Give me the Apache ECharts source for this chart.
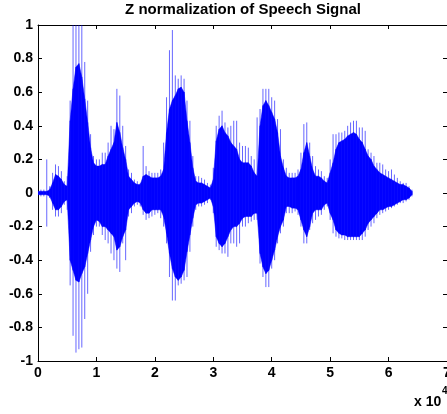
<!DOCTYPE html>
<html>
<head>
<meta charset="utf-8">
<script src="https://cdn.jsdelivr.net/npm/echarts@6/dist/echarts.min.js"></script>
<style>
html, body {margin:0; padding:0; background:#fff;}
#main {width:447px; height:414px;}
</style>
</head>
<body>
<div id="main"></div>
<script>
// envelope of the signal, one reading every 500 samples
var sampleStep = 500;
// dense core of the waveform (upper / lower)
var coreTop = [0.01,0.01,0.01,0.01,0.02,0.06,0.11,0.10,0.08,0.05,
    0.04,0.43,0.62,0.75,0.77,0.69,0.56,0.42,0.27,0.18,
    0.16,0.16,0.17,0.17,0.22,0.26,0.30,0.42,0.36,0.27,
    0.20,0.10,0.08,0.06,0.05,0.05,0.10,0.11,0.10,0.09,
    0.09,0.09,0.10,0.14,0.36,0.50,0.55,0.58,0.62,0.63,
    0.60,0.43,0.30,0.15,0.07,0.06,0.06,0.05,0.04,0.03,
    0.08,0.31,0.38,0.40,0.36,0.34,0.30,0.28,0.26,0.20,
    0.18,0.18,0.18,0.16,0.12,0.10,0.40,0.52,0.55,0.52,
    0.48,0.44,0.36,0.22,0.15,0.10,0.09,0.09,0.09,0.10,
    0.14,0.24,0.30,0.22,0.14,0.10,0.10,0.09,0.07,0.06,
    0.12,0.18,0.26,0.30,0.31,0.32,0.34,0.35,0.36,0.35,
    0.32,0.30,0.26,0.22,0.20,0.16,0.14,0.12,0.11,0.10,
    0.09,0.08,0.07,0.06,0.05,0.05,0.04,0.03,0.01];
var coreBot = [-0.01,-0.01,-0.01,-0.01,-0.02,-0.06,-0.10,-0.10,-0.08,-0.05,
    -0.04,-0.40,-0.46,-0.52,-0.53,-0.48,-0.44,-0.36,-0.28,-0.20,
    -0.16,-0.17,-0.20,-0.20,-0.22,-0.24,-0.26,-0.34,-0.32,-0.26,
    -0.22,-0.10,-0.08,-0.06,-0.05,-0.06,-0.10,-0.12,-0.12,-0.10,
    -0.10,-0.10,-0.10,-0.14,-0.24,-0.36,-0.45,-0.50,-0.52,-0.50,
    -0.46,-0.35,-0.25,-0.15,-0.07,-0.06,-0.06,-0.05,-0.04,-0.03,
    -0.08,-0.26,-0.30,-0.32,-0.30,-0.26,-0.22,-0.20,-0.20,-0.18,
    -0.15,-0.14,-0.14,-0.14,-0.12,-0.12,-0.36,-0.44,-0.48,-0.46,
    -0.40,-0.34,-0.26,-0.20,-0.16,-0.08,-0.08,-0.09,-0.09,-0.10,
    -0.16,-0.22,-0.26,-0.20,-0.12,-0.10,-0.10,-0.10,-0.07,-0.06,
    -0.12,-0.16,-0.22,-0.24,-0.25,-0.25,-0.26,-0.26,-0.26,-0.26,
    -0.26,-0.24,-0.22,-0.18,-0.16,-0.14,-0.12,-0.10,-0.10,-0.09,
    -0.08,-0.08,-0.07,-0.06,-0.05,-0.04,-0.04,-0.03,-0.01];
// isolated peaks reaching out of the core
var peakTop = [0.01,0.02,0.02,0.20,0.04,0.12,0.17,0.16,0.13,0.07,
    0.10,0.55,1.00,1.00,1.00,1.00,0.78,0.55,0.35,0.22,
    0.20,0.20,0.24,0.24,0.30,0.40,0.38,0.62,0.58,0.40,
    0.28,0.14,0.12,0.08,0.07,0.06,0.28,0.16,0.13,0.12,
    0.12,0.12,0.14,0.30,0.57,0.85,0.97,0.70,0.68,0.70,
    0.68,0.55,0.43,0.22,0.10,0.10,0.09,0.08,0.06,0.05,
    0.15,0.40,0.46,0.49,0.42,0.39,0.40,0.43,0.43,0.30,
    0.28,0.28,0.27,0.22,0.20,0.45,0.50,0.62,0.62,0.62,
    0.57,0.55,0.44,0.38,0.20,0.15,0.12,0.12,0.12,0.14,
    0.24,0.41,0.42,0.30,0.22,0.16,0.14,0.13,0.10,0.09,
    0.20,0.35,0.35,0.36,0.36,0.37,0.40,0.42,0.43,0.43,
    0.39,0.39,0.37,0.26,0.24,0.22,0.18,0.18,0.17,0.14,
    0.13,0.14,0.11,0.09,0.07,0.06,0.06,0.04,0.02];
var peakBot = [-0.01,-0.02,-0.02,-0.20,-0.03,-0.10,-0.14,-0.14,-0.12,-0.07,
    -0.10,-0.55,-0.85,-0.95,-0.93,-0.92,-0.75,-0.60,-0.35,-0.25,
    -0.20,-0.20,-0.25,-0.28,-0.30,-0.36,-0.40,-0.45,-0.47,-0.30,
    -0.40,-0.14,-0.12,-0.08,-0.07,-0.08,-0.13,-0.16,-0.15,-0.14,
    -0.13,-0.12,-0.15,-0.20,-0.30,-0.50,-0.64,-0.64,-0.55,-0.54,
    -0.52,-0.50,-0.35,-0.20,-0.10,-0.08,-0.08,-0.07,-0.06,-0.04,
    -0.12,-0.32,-0.34,-0.36,-0.36,-0.38,-0.30,-0.30,-0.32,-0.30,
    -0.20,-0.20,-0.18,-0.17,-0.16,-0.16,-0.42,-0.50,-0.56,-0.56,
    -0.45,-0.40,-0.30,-0.24,-0.20,-0.12,-0.12,-0.12,-0.11,-0.13,
    -0.20,-0.30,-0.30,-0.22,-0.18,-0.16,-0.14,-0.13,-0.10,-0.08,
    -0.16,-0.24,-0.26,-0.27,-0.27,-0.28,-0.28,-0.28,-0.28,-0.28,
    -0.28,-0.28,-0.26,-0.22,-0.20,-0.18,-0.15,-0.13,-0.12,-0.11,
    -0.10,-0.09,-0.08,-0.07,-0.06,-0.06,-0.05,-0.04,-0.02];

var xMin = 0, xMax = 7;   // x 10^4 samples
var yMin = -1, yMax = 1;

var waveData = coreTop.map(function (v, i) {
    return [i * sampleStep / 10000, coreTop[i], coreBot[i], peakTop[i], peakBot[i]];
});

function renderWave(params, api) {
    var i = params.dataIndex;
    var j = Math.min(i + 1, waveData.length - 1);
    var x0 = waveData[i][0], x1 = waveData[j][0];
    var pts = [
        api.coord([x0, coreTop[i]]), api.coord([x1, coreTop[j]]),
        api.coord([x1, coreBot[j]]), api.coord([x0, coreBot[i]])
    ];
    var pT = api.coord([x0, peakTop[i]]);
    var pB = api.coord([x0, peakBot[i]]);
    return {
        type: 'group',
        children: [
            {type: 'line', shape: {x1: pT[0], y1: pT[1], x2: pB[0], y2: pB[1]},
             style: {stroke: '#0000ff', lineWidth: 1, opacity: 0.6}},
            {type: 'polygon', shape: {points: pts}, style: {fill: '#0000ff', stroke: '#0000ff', lineWidth: 0.5}}
        ]
    };
}

var labelFont = {color: '#000', fontFamily: 'Liberation Sans', fontWeight: 'bold', fontSize: 14};
var lineBlack = {show: true, onZero: false, lineStyle: {color: '#000', width: 1}};
var tickIn = {show: true, inside: true, length: 4, lineStyle: {color: '#000'}};

var chart = echarts.init(document.getElementById('main'));
chart.setOption({
    backgroundColor: '#fff',
    animation: false,
    grid: {left: 38, right: 0, top: 25, bottom: 53, outerBoundsMode: 'none'},
    xAxis: [
        {type: 'value', min: xMin, max: xMax, interval: 1, position: 'bottom',
         axisLine: lineBlack, axisTick: tickIn, splitLine: {show: false},
         axisLabel: Object.assign({margin: 5, showMaxLabel: true}, labelFont)},
        {type: 'value', min: xMin, max: xMax, interval: 1, position: 'top',
         axisLine: lineBlack, axisTick: tickIn, splitLine: {show: false}, axisLabel: {show: false}}
    ],
    yAxis: [
        {type: 'value', min: yMin, max: yMax, interval: 0.2, position: 'left',
         axisLine: lineBlack, axisTick: tickIn, splitLine: {show: false},
         axisLabel: Object.assign({margin: 5}, labelFont)},
        {type: 'value', min: yMin, max: yMax, interval: 0.2, position: 'right',
         axisLine: lineBlack, axisTick: tickIn, splitLine: {show: false}, axisLabel: {show: false}}
    ],
    graphic: [
        {type: 'text', x: 243, y: 10,
         style: {text: 'Z normalization of Speech Signal', fill: '#000',
                 font: 'bold 15px "Liberation Sans"', align: 'center', verticalAlign: 'middle',
                 textAlign: 'center', textVerticalAlign: 'middle'}},
        {type: 'text', x: 414, y: 402,
         style: {text: 'x 10', fill: '#000', font: 'bold 14px "Liberation Sans"',
                 verticalAlign: 'middle', textVerticalAlign: 'middle'}},
        {type: 'text', x: 442, y: 391,
         style: {text: '4', fill: '#000', font: 'bold 10px "Liberation Sans"',
                 verticalAlign: 'middle', textVerticalAlign: 'middle'}}
    ],
    series: [{
        type: 'custom',
        xAxisIndex: 0,
        yAxisIndex: 0,
        clip: true,
        renderItem: renderWave,
        encode: {x: 0, y: [1, 2, 3, 4]},
        data: waveData
    }]
});
</script>
</body>
</html>
